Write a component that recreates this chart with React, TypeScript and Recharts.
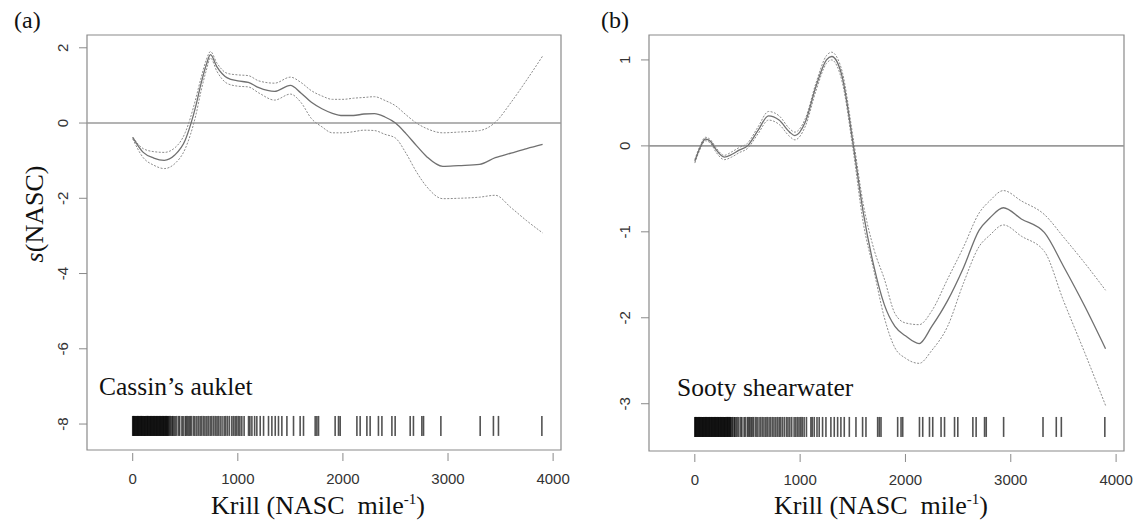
import React from "react";
import {
  ComposedChart,
  Line,
  Scatter,
  XAxis,
  YAxis,
  ReferenceLine,
  ReferenceArea,
} from "recharts";

// ---------- Data ----------
// Panel (a) Cassin's auklet
const krillA = [0, 100, 200, 300, 400, 500, 550, 600, 650, 700, 740, 800, 900, 1000, 1100, 1200, 1350, 1500, 1600, 1700, 1800, 1900, 2000, 2100, 2200, 2300, 2400, 2500, 2600, 2700, 2800, 2950, 3100, 3300, 3450, 3600, 3750, 3900];
const fitA = [-0.38, -0.78, -0.93, -0.99, -0.85, -0.45, -0.05, 0.45, 1.05, 1.55, 1.82, 1.5, 1.2, 1.12, 1.08, 0.94, 0.84, 1.0, 0.8, 0.55, 0.38, 0.26, 0.2, 0.2, 0.24, 0.25, 0.16, 0.0, -0.28, -0.6, -0.9, -1.15, -1.13, -1.1, -0.92, -0.8, -0.68, -0.57];
const upperA = [-0.38, -0.68, -0.76, -0.78, -0.66, -0.25, 0.15, 0.65, 1.2, 1.68, 1.9, 1.6, 1.32, 1.28, 1.26, 1.12, 1.06, 1.22, 1.08, 0.86, 0.72, 0.63, 0.63, 0.66, 0.68, 0.7, 0.6, 0.46, 0.22, 0.0, -0.15, -0.26, -0.24, -0.2, 0.02, 0.55, 1.15, 1.78];
const lowerA = [-0.42, -0.92, -1.12, -1.21, -1.08, -0.68, -0.3, 0.2, 0.85, 1.4, 1.73, 1.38, 1.05, 0.98, 0.96, 0.8, 0.61, 0.77, 0.55, 0.12, -0.1, -0.26, -0.26, -0.23, -0.19, -0.2, -0.3, -0.4, -0.8, -1.3, -1.7, -2.01, -2.0, -1.97, -1.92, -2.25, -2.6, -2.92];

// Panel (b) Sooty shearwater
const krillB = [0, 50, 100, 150, 200, 280, 350, 420, 500, 600, 700, 800, 900, 950, 1050, 1150, 1250, 1300, 1350, 1400, 1500, 1600, 1700, 1800, 1900, 2000, 2130, 2250, 2400, 2550, 2700, 2800, 2930, 3100, 3320, 3500, 3700, 3900];
const fitB = [-0.18, -0.02, 0.08, 0.05, -0.04, -0.13, -0.1, -0.05, 0.0, 0.18, 0.35, 0.3, 0.16, 0.12, 0.28, 0.69, 1.0, 1.04, 0.98, 0.8, 0.05, -0.78, -1.4, -1.85, -2.1, -2.21, -2.3, -2.1, -1.8, -1.42, -0.98, -0.84, -0.72, -0.85, -1.01, -1.4, -1.86, -2.36];
const upperB = [-0.16, 0.0, 0.1, 0.07, -0.02, -0.11, -0.07, -0.02, 0.03, 0.22, 0.4, 0.35, 0.2, 0.16, 0.32, 0.73, 1.05, 1.09, 1.03, 0.86, 0.12, -0.68, -1.2, -1.55, -1.95, -2.06, -2.08, -1.92, -1.55, -1.18, -0.78, -0.64, -0.52, -0.64, -0.8, -1.06, -1.36, -1.68];
const lowerB = [-0.2, -0.04, 0.06, 0.03, -0.07, -0.16, -0.13, -0.08, -0.03, 0.14, 0.3, 0.25, 0.11, 0.07, 0.23, 0.64, 0.96, 1.0, 0.93, 0.74, -0.02, -0.9, -1.45, -2.0, -2.35, -2.47, -2.53, -2.38, -2.1, -1.6, -1.17, -1.04, -0.92, -1.05, -1.23, -1.8, -2.4, -3.02];

// Rug of observed krill values (shared by both panels)
const rugKrill = [
  0, 4, 9, 15, 20, 26, 31, 37, 42, 48, 53, 59, 64, 70, 76, 81, 87, 92, 98, 104, 109, 115, 121, 126, 132, 138, 143, 149, 155, 160, 166, 172, 177, 183, 189, 194, 200, 206, 211, 217, 223, 228, 234, 240, 245, 251, 257, 262, 268, 274, 279, 285, 291, 296, 302, 308, 313, 319, 325, 330, 336, 342,
  352, 360, 373, 380, 392, 404, 418, 436, 447, 468, 480, 499, 510, 522, 535, 547, 560, 579, 592, 610, 626, 642, 657, 674, 688, 705, 720, 737, 752, 769, 785, 801, 815, 832, 850, 870, 885, 902, 920, 943, 959, 975, 990, 1006, 1020, 1038, 1060, 1102, 1115, 1134, 1160, 1181, 1213, 1245, 1292, 1324, 1356, 1387, 1419, 1467, 1530, 1593, 1625, 1736, 1752, 1768, 1926, 1958, 1974, 2133, 2164, 2228, 2259, 2338, 2371, 2466, 2497, 2640, 2671, 2751, 2767, 2932, 3306, 3432, 3480, 3893,
];
const rugLevelA = -8.05;
const rugLevelB = -3.27;

const xTicks = [0, 1000, 2000, 3000, 4000];
const yTicksA = [-8, -6, -4, -2, 0, 2];
const yTicksB = [-3, -2, -1, 0, 1];

const xDomain = [-435, 4075];
const yDomainA = [-8.69, 2.34];
const yDomainB = [-3.55, 1.29];

// ---------- Styling ----------
const SANS = "'Liberation Sans', Arial, Helvetica, sans-serif";
const SERIF = "'Liberation Serif', 'Times New Roman', serif";
const BOX = "#8a8a8a";
const TICK_COLOR = "#333";

const XTick = (props: any) => {
  const { x, y, payload } = props;
  return (
    <g>
      <line x1={x} y1={y + 3} x2={x} y2={y + 11} stroke={BOX} strokeWidth={1} />
      <text x={x} y={y + 28} textAnchor="middle" dominantBaseline="central" fontFamily={SANS} fontSize={15} fill={TICK_COLOR}>
        {String(payload.value)}
      </text>
    </g>
  );
};

const YTick = (props: any) => {
  const { x, y, payload } = props;
  return (
    <g>
      <line x1={x - 8} y1={y} x2={x} y2={y} stroke={BOX} strokeWidth={1} />
      <text
        x={0}
        y={0}
        transform={`translate(${x - 25}, ${y}) rotate(-90)`}
        textAnchor="middle"
        dominantBaseline="central"
        fontFamily={SANS}
        fontSize={15}
        fill={TICK_COLOR}
      >
        {String(payload.value)}
      </text>
    </g>
  );
};

const RugMark = (props: any) => {
  const { cx, cy } = props;
  if (cx == null || cy == null) return <g />;
  return <line x1={cx} y1={cy - 10} x2={cx} y2={cy + 10} stroke="#000" strokeOpacity={0.68} strokeWidth={1.6} />;
};

type PanelProps = {
  krill: number[];
  fit: number[];
  upper: number[];
  lower: number[];
  yDomain: number[];
  yTicks: number[];
  rugLevel: number;
  yAxisWidth: number;
  rightMargin: number;
  xAxisHeight: number;
};

const Panel = (p: PanelProps) => {
  const rows = p.krill.map((x, i) => ({ x, fit: p.fit[i], upper: p.upper[i], lower: p.lower[i] }));
  const rug = rugKrill.map((x) => ({ x, y: p.rugLevel }));
  return (
    <ComposedChart width={570} height={526} data={rows} margin={{ top: 35, right: p.rightMargin, bottom: 0, left: 0 }}>
      <XAxis
        dataKey="x"
        type="number"
        domain={xDomain}
        ticks={xTicks}
        interval={0}
        allowDataOverflow
        axisLine={false}
        tickLine={false}
        tickSize={0}
        tickMargin={0}
        height={p.xAxisHeight}
        tick={<XTick />}
      />
      <YAxis
        type="number"
        domain={p.yDomain}
        ticks={p.yTicks}
        interval={0}
        allowDataOverflow
        axisLine={false}
        tickLine={false}
        tickSize={0}
        tickMargin={0}
        width={p.yAxisWidth}
        tick={<YTick />}
      />
      <ReferenceArea x1={xDomain[0]} x2={xDomain[1]} y1={p.yDomain[0]} y2={p.yDomain[1]} fill="none" stroke={BOX} strokeWidth={1.2} ifOverflow="extendDomain" />
      <ReferenceLine y={0} stroke="#9a9a9a" strokeWidth={1.6} />
      <Line dataKey="upper" type="monotone" stroke="#8c8c8c" strokeWidth={1} strokeDasharray="2 1.5" dot={false} activeDot={false} isAnimationActive={false} />
      <Line dataKey="lower" type="monotone" stroke="#8c8c8c" strokeWidth={1} strokeDasharray="2 1.5" dot={false} activeDot={false} isAnimationActive={false} />
      <Line dataKey="fit" type="monotone" stroke="#707070" strokeWidth={1.3} dot={false} activeDot={false} isAnimationActive={false} />
      <Scatter data={rug} dataKey="y" shape={<RugMark />} isAnimationActive={false} />
    </ComposedChart>
  );
};

export default function App() {
  return (
    <div style={{ position: "absolute", left: 0, top: 0, width: 1136, height: 526, background: "#fff" }}>
      <div style={{ position: "absolute", left: 0, top: 0 }}>
        <Panel krill={krillA} fit={fitA} upper={upperA} lower={lowerA} yDomain={yDomainA} yTicks={yTicksA} rugLevel={rugLevelA} yAxisWidth={87} rightMargin={9} xAxisHeight={76} />
      </div>
      <div style={{ position: "absolute", left: 566, top: 0 }}>
        <Panel krill={krillB} fit={fitB} upper={upperB} lower={lowerB} yDomain={yDomainB} yTicks={yTicksB} rugLevel={rugLevelB} yAxisWidth={83} rightMargin={12} xAxisHeight={75} />
      </div>
      <svg width={1136} height={526} style={{ position: "absolute", left: 0, top: 0, pointerEvents: "none" }}>
        <text x={14} y={28} fontFamily={SERIF} fontSize={24} fill="#111">(a)</text>
        <text x={601} y={28} fontFamily={SERIF} fontSize={24} fill="#111">(b)</text>
        <text x={99} y={395} fontFamily={SERIF} fontSize={25.5} fill="#111">Cassin’s auklet</text>
        <text x={677} y={396} fontFamily={SERIF} fontSize={25.5} fill="#111">Sooty shearwater</text>
        <text x={318} y={514} textAnchor="middle" fontFamily={SERIF} fontSize={26} fill="#111">
          {"Krill (NASC\u00A0 mile"}<tspan fontSize={15} dy={-10}>-1</tspan><tspan dy={10}>)</tspan>
        </text>
        <text x={881} y={514} textAnchor="middle" fontFamily={SERIF} fontSize={26} fill="#111">
          {"Krill (NASC\u00A0 mile"}<tspan fontSize={15} dy={-10}>-1</tspan><tspan dy={10}>)</tspan>
        </text>
        <text transform="translate(43, 214) rotate(-90)" x={0} y={0} textAnchor="middle" fontFamily={SERIF} fontSize={26} fill="#111">
          <tspan fontStyle="italic">s</tspan>(NASC)
        </text>
      </svg>
    </div>
  );
}
